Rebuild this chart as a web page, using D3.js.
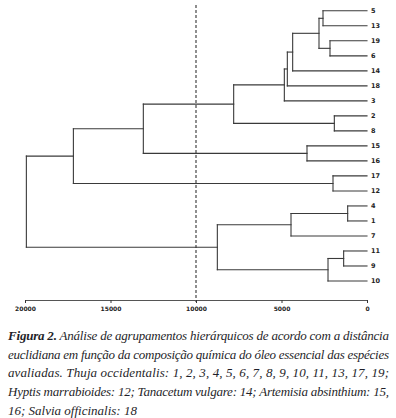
<!DOCTYPE html>
<html lang="pt">
<head>
<meta charset="utf-8">
<title>Dendrograma</title>
<script src="https://d3js.org/d3.v7.min.js"></script>
<style>
  body { margin: 0; background: #fff; }
  .leaf { font-family: "DejaVu Sans", sans-serif; font-weight: bold; font-size: 6.5px; fill: #222; }
  .axis text { font-family: "DejaVu Sans", sans-serif; font-weight: bold; font-size: 6px; fill: #222; }
  .caption { font-family: "Liberation Serif", "Times New Roman", "DejaVu Serif", serif; font-style: italic; font-size: 13px; fill: #1f1f2a; }
</style>
</head>
<body>
<script>
var w = 396, h = 418;

// leaf order, top to bottom
var leafLabels = ["5","13","19","6","14","18","3","2","8","15","16","17","12","4","1","7","11","9","10"];

// linkage: ids < 19 are leaves, id 19+k is merge k
var mergeLeft   = [0, 2, 19, 21, 22, 23, 7, 24, 9, 26, 11, 28, 13, 31, 16, 33, 32, 30];
var mergeRight  = [1, 3, 20, 4, 5, 6, 8, 25, 10, 27, 12, 29, 14, 15, 17, 18, 34, 35];
var mergeHeight = [2573, 2164, 2807, 4347, 4659, 4834, 1910, 7797, 3509, 13080, 1988, 17170, 1130, 4444, 1365, 2280, 8752, 19920];

var axisTicks = [20000, 15000, 10000, 5000, 0];
var cutHeight = 10000;

var captionLines = [
  {bold: "Figura 2.", text: " Análise de agrupamentos hierárquicos de acordo com a distância", justify: true},
  {bold: "", text: "euclidiana em função da composição química do óleo essencial das espécies", justify: true},
  {bold: "", text: "avaliadas. Thuja occidentalis: 1, 2, 3, 4, 5, 6, 7, 8, 9, 10, 11, 13, 17, 19;", justify: true},
  {bold: "", text: "Hyptis marrabioides: 12; Tanacetum vulgare: 14; Artemisia absinthium: 15,", justify: true},
  {bold: "", text: "16; Salvia officinalis: 18", justify: false}
];

var svg = d3.select("body").append("svg")
  .attr("width", w).attr("height", h);

var x = d3.scaleLinear().domain([20000, 0]).range([25, 367]);
var y = d3.scaleLinear().domain([0, leafLabels.length - 1]).range([10.8, 281]);

// node positions
var nodeX = [], nodeY = [];
leafLabels.forEach(function(d, i) { nodeX[i] = 0; nodeY[i] = y(i); });
var n = leafLabels.length;
mergeHeight.forEach(function(hgt, k) {
  var a = mergeLeft[k], b = mergeRight[k];
  nodeX[n + k] = hgt;
  nodeY[n + k] = (nodeY[a] + nodeY[b]) / 2;
});

var segs = [];
mergeHeight.forEach(function(hgt, k) {
  var a = mergeLeft[k], b = mergeRight[k];
  segs.push([x(hgt), nodeY[a], x(hgt), nodeY[b]]);
  segs.push([x(hgt), nodeY[a], x(nodeX[a]), nodeY[a]]);
  segs.push([x(hgt), nodeY[b], x(nodeX[b]), nodeY[b]]);
});

svg.append("g").selectAll("line")
  .data(segs)
  .enter().append("line")
  .attr("x1", function(d) { return d[0]; })
  .attr("y1", function(d) { return d[1]; })
  .attr("x2", function(d) { return d[2]; })
  .attr("y2", function(d) { return d[3]; })
  .attr("stroke", "#3a3a3a")
  .attr("stroke-width", 1.1)
  .attr("stroke-linecap", "square");

svg.append("g").selectAll("text")
  .data(leafLabels)
  .enter().append("text")
  .attr("class", "leaf")
  .attr("x", x(0) + 4)
  .attr("y", function(d, i) { return y(i); })
  .attr("dy", "0.35em")
  .text(function(d) { return d; });

// cut line
svg.append("line")
  .attr("x1", x(cutHeight)).attr("x2", x(cutHeight))
  .attr("y1", 5).attr("y2", 302)
  .attr("stroke", "#333")
  .attr("stroke-width", 1.1)
  .attr("stroke-dasharray", "3,2");

// axis
var axis = svg.append("g")
  .attr("class", "axis")
  .attr("transform", "translate(0,300)")
  .call(d3.axisBottom(x).tickValues(axisTicks).tickFormat(d3.format("d"))
    .tickSize(3).tickSizeOuter(0).tickPadding(4));
axis.select(".domain").attr("stroke", "#555").attr("stroke-width", 1.2);
axis.selectAll(".tick line").attr("stroke", "#333");

// caption
var cap = svg.append("g");
captionLines.forEach(function(l, i) {
  var t = cap.append("text")
    .attr("class", "caption")
    .attr("x", 8)
    .attr("y", 340 + i * 18.7);
  if (l.justify) t.attr("textLength", 381).attr("lengthAdjust", "spacing");
  if (l.bold) t.append("tspan").attr("font-weight", "bold").text(l.bold);
  t.append("tspan").text(l.text);
});
</script>
</body>
</html>
